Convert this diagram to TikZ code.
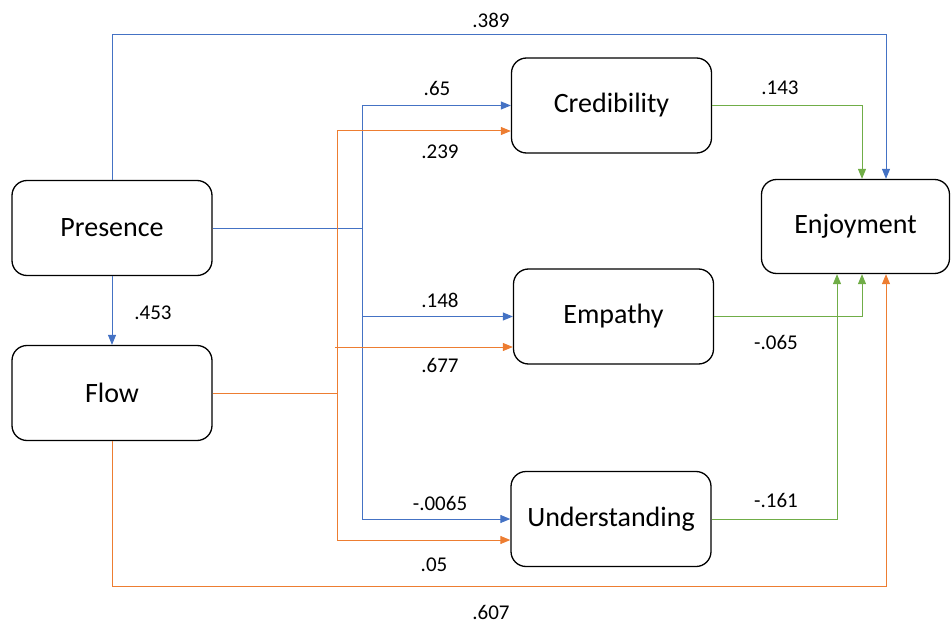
\documentclass[tikz,border=0pt]{standalone}
\usepackage{fontspec}
\setmainfont{Carlito}
\usetikzlibrary{arrows.meta,calc}
\definecolor{cblue}{HTML}{4472C4}
\definecolor{corange}{HTML}{ED7D31}
\definecolor{cgreen}{HTML}{70AD47}
\begin{document}
\begin{tikzpicture}[x=1pt,y=-1pt,
  box/.style={draw=black,line width=1.3pt,rounded corners=15pt,minimum width=200pt,minimum height=95pt,inner sep=0pt,font=\fontsize{28}{32}\selectfont},
  lab/.style={font=\fontsize{21}{24}\selectfont,inner sep=0pt},
  con/.style={line width=1pt},
  arr/.style={-{Triangle[length=10pt,width=8pt]}},
  bl/.style={con,draw=cblue},
  orr/.style={con,draw=corange},
  gr/.style={con,draw=cgreen}]
\useasboundingbox (0,0) rectangle (951,623);
\node[box] (pres) at (112,228) {Presence};
\node[box] (flow) at (112,393) {Flow};
\node[box] (cred) at (611.5,105.5) {Credibility};
\node[box] (emp) at (613.5,316.5) {Empathy};
\node[box] (und) at (611,519) {Understanding};
\node[box,minimum width=188pt,minimum height=94pt] (enj) at (855.5,226.5) {Enjoyment};
% blue from Presence
\coordinate (jb) at (362,228);
\draw[bl] (pres.east) -- (jb);
\draw[bl,arr] (jb) |- (cred.west);
\draw[bl,arr] (jb) |- (emp.west);
\draw[bl,arr] (jb) |- (und.west);
\draw[bl,arr] (pres.south) -- (flow.north);
\coordinate (po) at (886,35);
\draw[bl,arr] (pres.north) |- (po) -- (po |- enj.north);
% orange from Flow
\coordinate (jo) at (337,393);
\draw[orr] (flow.east) -- (jo);
\draw[orr,arr] (jo) |- (cred.west |- 0,131);
\draw[orr,arr] (jo) |- (und.west |- 0,540);
\draw[orr,arr] (335,347) -- (emp.west |- 0,347);
\coordinate (fo) at (886,586);
\draw[orr,arr] (flow.south) |- (fo) -- (fo |- enj.south);
% green to Enjoyment
\draw[gr,arr] (cred.east) -| (862,0 |- enj.north);
\draw[gr,arr] (emp.east) -| (862,0 |- enj.south);
\draw[gr,arr] (und.east) -| (837,0 |- enj.south);
% labels
\node[lab] (l389) at (491,20) {.389};
\node[lab] (l453) at (153,313) {.453};
\node[lab] (l65) at (437,88) {.65};
\node[lab] (l239) at (440,152) {.239};
\node[lab] (l148) at (440,300) {.148};
\node[lab] (l677) at (440,365) {.677};
\node[lab] (l0065) at (440,503) {-.0065};
\node[lab] (l05) at (434,565) {.05};
\node[lab] (l607) at (491,612) {.607};
\node[lab] (l143) at (780,88) {.143};
\node[lab] (l065) at (776,342) {-.065};
\node[lab] (l161) at (776,500) {-.161};
\end{tikzpicture}
\end{document}
